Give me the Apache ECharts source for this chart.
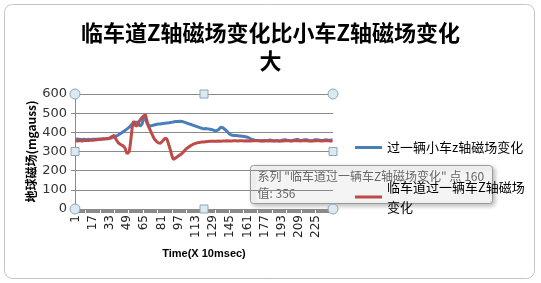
<!DOCTYPE html>
<html><head><meta charset="utf-8">
<script src="https://cdn.jsdelivr.net/npm/echarts@6/dist/echarts.min.js"></script>
<style>html,body{margin:0;padding:0;background:#fff}#c{width:541px;height:283px}</style>
</head><body><div id="c"></div>
<script>
var titleText = '临车道Z轴磁场变化比小车Z轴磁场变化\n大';
var seriesNames = ['过一辆小车z轴磁场变化', '临车道过一辆车Z轴磁场变化'];
var yTicks = {min: 0, max: 600, step: 100};
var xLabelStep = 16;
var categories = [];
for (var i = 1; i <= 240; i++) categories.push(String(i));

var carZ = [
364,363,365,364,363,364,362,363,364,363,
362,363,364,363,362,363,364,363,364,363,
364,363,365,364,365,364,366,365,366,367,
367,368,369,370,372,374,376,378,381,384,
387,390,394,398,402,406,410,414,418,422,
427,433,439,444,448,451,453,455,452,447,
432,422,445,470,481,470,455,442,435,432,
433,435,436,438,440,441,442,443,443,444,
445,446,447,447,448,449,450,450,451,452,
453,454,455,456,456,457,458,458,458,457,
455,453,451,449,447,445,444,442,440,438,
436,434,432,430,428,426,424,422,420,418,
421,420,419,418,417,416,416,414,412,410,
409,408,410,414,420,426,427,424,420,415,
411,405,398,392,388,386,385,384,384,383,
383,382,382,381,381,380,379,378,377,376,
375,372,369,366,363,361,360,359,358,358,
357,356,355,356,355,357,358,356,355,356,
360,361,359,356,355,354,356,357,356,355,
355,356,358,360,361,362,360,358,357,356,
355,356,357,359,361,362,363,362,360,358,
357,358,360,361,362,361,359,358,357,356,
357,358,359,361,362,361,360,359,358,357,
358,359,360,361,360,359,358,359,360,361
];
var laneZ = [
356,357,355,356,357,356,355,356,357,356,
357,358,357,358,359,358,359,360,360,361,
361,362,362,363,364,364,365,366,366,367,
368,369,371,374,378,382,384,378,360,350,
344,340,336,333,331,330,318,302,288,278,
300,340,390,440,458,448,432,425,440,455,
465,472,478,484,489,492,470,448,428,418,
405,392,380,368,360,354,348,345,342,343,
347,355,362,368,372,366,348,330,312,292,
272,258,262,266,270,274,278,282,286,290,
296,302,308,314,318,322,326,330,334,337,
339,341,343,345,346,347,348,349,350,350,
351,351,352,352,352,353,353,353,354,354,
354,354,355,355,355,354,355,355,356,355,
355,356,355,355,356,355,356,356,355,356,
356,355,356,356,355,356,356,355,356,356,
356,355,356,355,356,356,355,356,355,356,
355,356,356,355,356,355,356,356,355,356,
356,355,356,356,355,356,355,356,356,355,
356,355,356,355,356,356,355,356,355,356,
356,355,356,356,355,356,355,356,356,355,
356,356,355,356,355,356,356,355,356,355,
356,355,356,356,355,356,355,356,356,355,
356,356,355,356,355,356,356,355,356,355
];
var tipPoint = 160;

var G = {left: 75, top: 94, width: 258, height: 115};
var chart = echarts.init(document.getElementById('c'), null, {renderer: 'canvas'});
var hFill = '#dbe9f1', hStroke = '#8ea6b6';
function circ(x, y) { return {type: 'circle', shape: {cx: x, cy: y, r: 5}, style: {fill: hFill, stroke: hStroke, lineWidth: 1}, z: 100}; }
function sq(x, y) { return {type: 'rect', shape: {x: x - 4, y: y - 4, width: 8, height: 8}, style: {fill: hFill, stroke: hStroke, lineWidth: 1}, z: 100}; }
var xr = G.left + G.width, yb = G.top + G.height, xm = G.left + G.width / 2, ym = G.top + G.height / 2;
var cjk = '"Noto Sans CJK SC", "Microsoft YaHei", sans-serif';

chart.setOption({
  backgroundColor: '#fff',
  animation: false,
  title: {
    text: titleText, left: 'center', top: 14,
    textStyle: {fontSize: 22, fontWeight: 'bold', color: '#000', fontFamily: cjk, lineHeight: 28}
  },
  legend: [{
    orient: 'vertical', left: 350, top: 136,
    data: [seriesNames[0]],
    itemWidth: 27, itemHeight: 3, icon: 'rect',
    textStyle: {fontSize: 13, color: '#000', fontFamily: cjk}
  }, {
    orient: 'vertical', left: 350, top: 162,
    data: [seriesNames[1]],
    itemWidth: 27, itemHeight: 3, icon: 'rect',
    formatter: function (n) { return n.slice(0, 11) + '\n' + n.slice(11); },
    textStyle: {fontSize: 13, color: '#000', fontFamily: cjk, lineHeight: 20, padding: [20, 0, 0, 0]}
  }],
  grid: G,
  xAxis: {
    type: 'category', data: categories, boundaryGap: true,
    name: 'Time(X 10msec)', nameLocation: 'middle', nameGap: 39,
    nameTextStyle: {fontSize: 11, fontWeight: 'bold', color: '#000', fontFamily: 'Liberation Sans, Arial, sans-serif'},
    axisLine: {lineStyle: {color: '#8a8a8a', width: 1}},
    axisTick: {show: true, interval: 0, length: 4, lineStyle: {color: '#8a8a8a'}},
    axisLabel: {interval: xLabelStep - 1, rotate: 90, fontSize: 12, color: '#222', margin: 6, fontFamily: 'DejaVu Sans, sans-serif'}
  },
  yAxis: {
    type: 'value', min: yTicks.min, max: yTicks.max, interval: yTicks.step,
    name: '地球磁场(mgauss)', nameLocation: 'middle', nameGap: 38,
    nameTextStyle: {fontSize: 12, fontWeight: 'bold', color: '#000', fontFamily: cjk},
    axisLine: {show: true, lineStyle: {color: '#8a8a8a'}},
    axisTick: {show: true, length: 4, lineStyle: {color: '#8a8a8a'}},
    splitLine: {lineStyle: {color: '#8a8a8a', width: 1}},
    axisLabel: {fontSize: 13, color: '#333', margin: 8, fontFamily: 'DejaVu Sans, sans-serif'}
  },
  series: [{
    name: seriesNames[0], type: 'line', data: carZ, showSymbol: false,
    lineStyle: {color: '#4a7ebb', width: 3}, itemStyle: {color: '#4a7ebb'}, z: 2
  }, {
    name: seriesNames[1], type: 'line', data: laneZ, showSymbol: false,
    lineStyle: {color: '#be4b48', width: 3}, itemStyle: {color: '#be4b48'}, z: 3
  }],
  graphic: [
    {type: 'rect', shape: {x: 4.5, y: 4.5, width: 530, height: 274, r: 8}, style: {fill: null, stroke: '#c4c4c4', lineWidth: 1}, z: 0},
    circ(G.left, G.top), circ(xr, G.top), circ(G.left, yb), circ(xr, yb),
    sq(xm, G.top), sq(G.left, ym), sq(xr, ym), sq(xm, yb),
    {type: 'group', left: 250, top: 165, z: 200, children: [
      {type: 'rect', shape: {x: 0, y: 0, width: 242, height: 38, r: 3},
       style: {fill: 'rgba(255,255,255,0.82)', stroke: '#9a9a9a', lineWidth: 1, shadowBlur: 4, shadowColor: 'rgba(0,0,0,0.3)', shadowOffsetX: 2, shadowOffsetY: 2}},
      {type: 'text', x: 7, y: 11, style: {text: '系列 "' + seriesNames[1] + '" 点 ' + tipPoint, fontSize: 12, fill: '#666', fontFamily: cjk, verticalAlign: 'middle'}},
      {type: 'text', x: 7, y: 28, style: {text: '值: ' + laneZ[tipPoint - 1], fontSize: 12, fill: '#666', fontFamily: cjk, verticalAlign: 'middle'}}
    ]}
  ]
});
</script></body></html>
